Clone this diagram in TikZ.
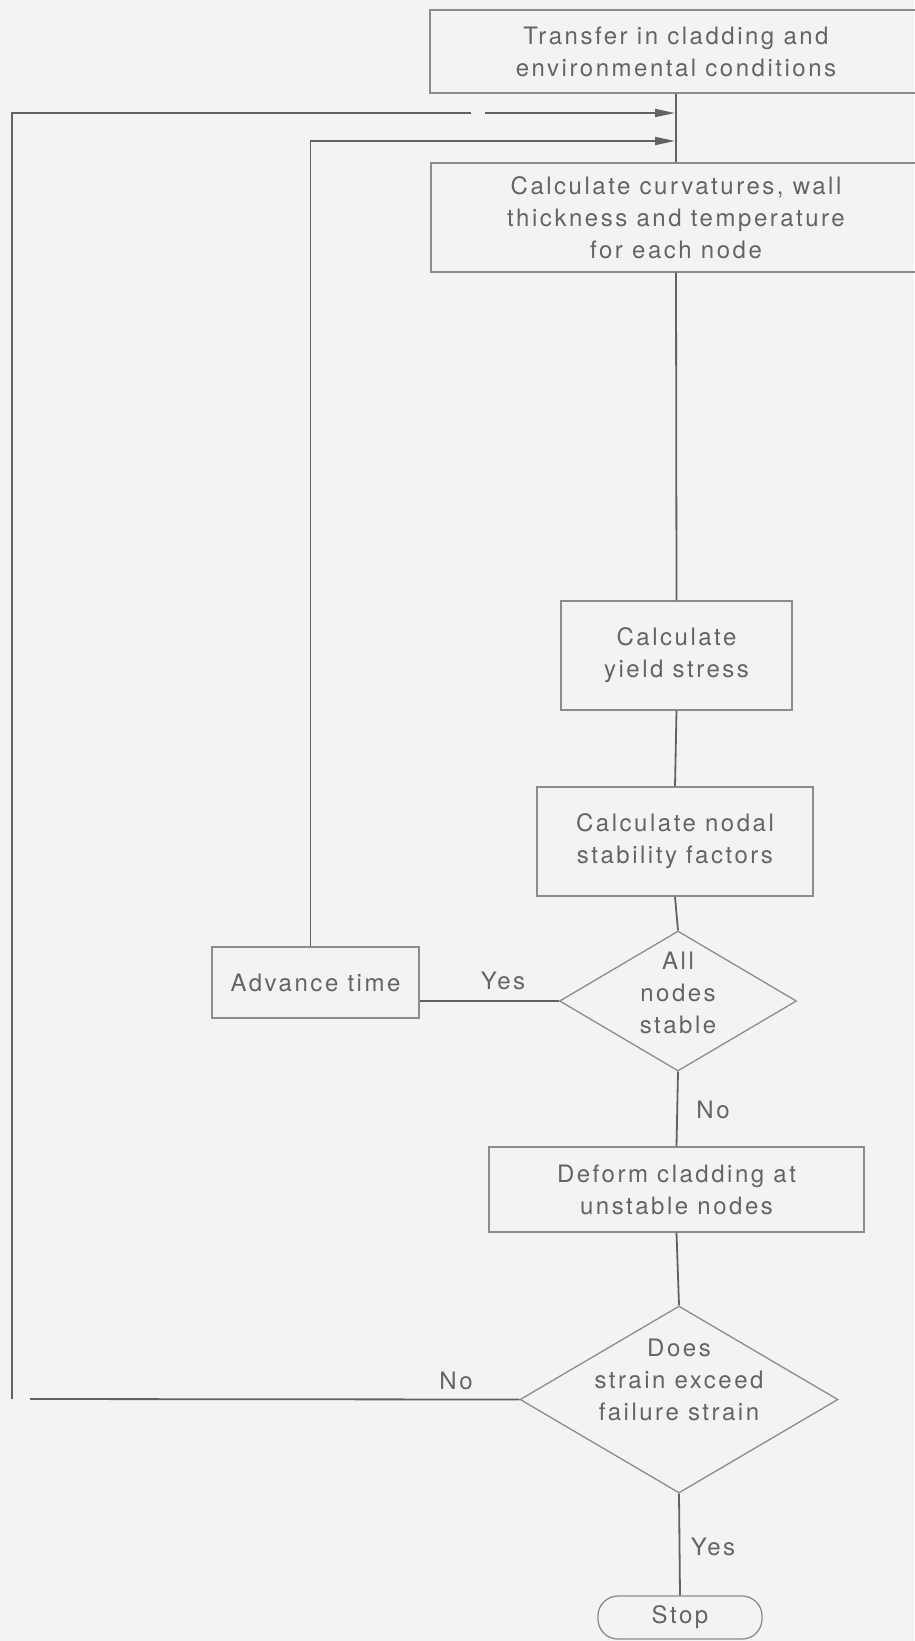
\documentclass[tikz,border=0pt]{standalone}
\usepackage{fontspec}
\setmainfont{TeX Gyre Heros}[LetterSpace=10.5]
\usetikzlibrary{shapes.geometric,arrows.meta}

\definecolor{paper}{RGB}{243,243,243}
\definecolor{ink}{RGB}{98,98,98}
\definecolor{edge}{RGB}{140,140,140}
\definecolor{txt}{RGB}{100,100,100}

\begin{document}
\begin{tikzpicture}[x=1pt,y=-1pt,
  every node/.style={text=txt,font=\fontsize{24}{32}\selectfont},
  box/.style={draw=edge,line width=1.3pt,rectangle,inner sep=0pt,align=center},
  decision/.style={draw=edge,line width=1.3pt,diamond,inner sep=0pt},
  caption/.style={inner sep=0pt,align=center},
  conn/.style={draw=ink,line width=1.8pt},
  tip/.style={-{Triangle[length=20pt,width=8pt]}}
]
% page
\fill[paper] (0,0) rectangle (914,1641);
\useasboundingbox (0,0) rectangle (914,1641);

% process steps
\node[box,minimum width=492pt,minimum height=83pt] (trans) at (676,51.5)
  {Transfer in cladding and\\environmental conditions};
\node[box,minimum width=490pt,minimum height=109pt] (curv) at (676,217.5)
  {Calculate curvatures, wall\\thickness and temperature\\for each node};
\node[box,minimum width=231pt,minimum height=109pt] (yield) at (676.5,655.5)
  {Calculate\\yield stress};
\node[box,minimum width=276pt,minimum height=109pt] (nodal) at (675,841.5)
  {Calculate nodal\\stability factors};
\node[box,minimum width=207pt,minimum height=71pt] (adv) at (315.5,982.5)
  {Advance time};
\node[box,minimum width=375pt,minimum height=85pt] (deform) at (676.5,1189.5)
  {Deform cladding at\\unstable nodes};
\node[box,rounded corners=20pt,minimum width=164pt,minimum height=43pt] (stop) at (680,1617.5)
  {Stop};

% decisions
\node[decision,minimum width=237pt,minimum height=140pt] (d1) at (678,1001) {};
\node[caption] (d1t) at (678,993) {All\\nodes\\stable};
\node[decision,minimum width=318pt,minimum height=187pt] (d2) at (679,1399.5) {};
\node[caption] (d2t) at (679,1380) {Does\\strain exceed\\failure strain};

% branch labels
\node[caption] (yes1) at (503,981) {Yes};
\node[caption] (no1) at (713,1110) {No};
\node[caption] (no2) at (456,1381) {No};
\node[caption] (yes2) at (713,1547) {Yes};

% junctions on the main line and loop corners
\coordinate (jout) at (675,113);
\coordinate (jin) at (675,141);
\coordinate (nb) at (30,1399);
\coordinate (lb) at (12,1399);
\coordinate (lt) at (12,113);
\coordinate (g1) at (471,113);
\coordinate (g2) at (485,113);

% main flow
\draw[conn] (trans.south) -- (curv.north);
\draw[conn] (curv.south) -- (yield.north);
\draw[conn] (yield.south) -- (nodal.north);
\draw[conn] (nodal.south) -- (d1.north);
\draw[conn] (d1.south) -- (deform.north);
\draw[conn] (deform.south) -- (d2.north);
\draw[conn] (d2.south) -- (stop.north);

% inner loop: advance time
\draw[conn] (d1.west) -- (d1.west -| adv.east);
\draw[conn,tip] ([xshift=-5pt]adv.north) |- (jin);

% outer loop: strain below failure
\draw[conn] (d2.west) -- (nb);
\draw[conn] (lb) -- (lt) -- (g1);
\draw[conn,tip] (g2) -- (jout);
\end{tikzpicture}
\end{document}
